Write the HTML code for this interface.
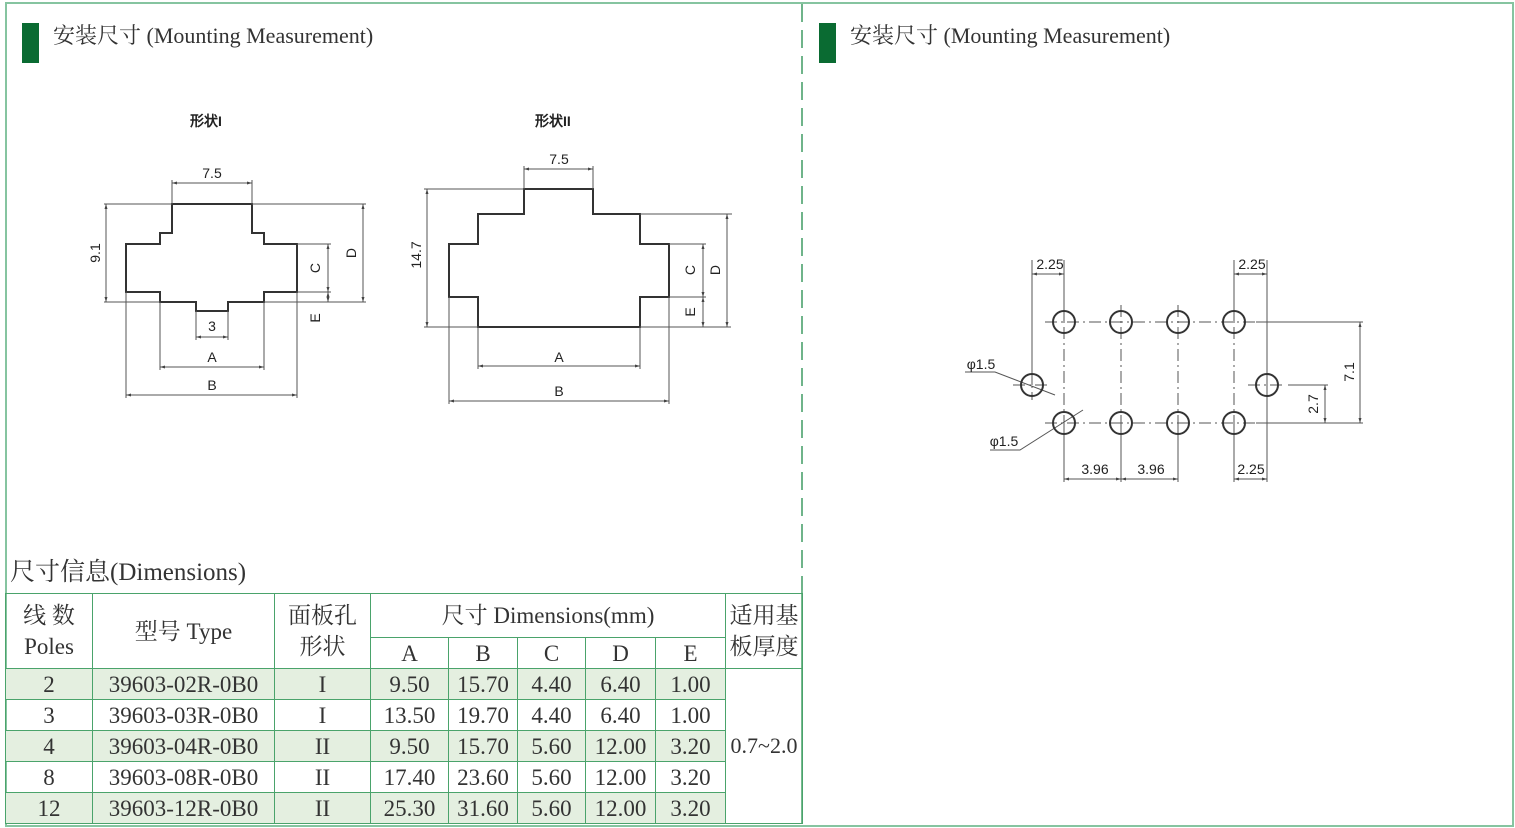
<!DOCTYPE html>
<html><head><meta charset="utf-8"><style>
body{margin:0;width:1515px;height:828px;background:#fff;position:relative;overflow:hidden;font-family:"Liberation Serif","Noto Serif CJK SC",serif;color:#333}
.abs{position:absolute}
.bar{position:absolute;width:17px;height:40px;background:#0a6b32}
.h{position:absolute;font-size:22px;white-space:nowrap;color:#333}
table{position:absolute;left:5px;top:593px;border-collapse:collapse;table-layout:fixed}
td{border:1.5px solid #4aa36b;text-align:center;font-size:23px;padding:0;line-height:1;white-space:nowrap;color:#333}
tr.s td.g{background:#e4efe0}
svg text{font-family:"Liberation Sans",sans-serif;fill:#222}
</style></head><body>
<div class="abs" style="left:5px;top:2px;width:1505px;height:821px;border:2px solid #86c4a0"></div>
<div class="bar" style="left:22px;top:23px"></div>
<div class="bar" style="left:819px;top:23px"></div>
<div class="h" style="left:53px;top:19px">安装尺寸 (Mounting Measurement)</div>
<div class="h" style="left:850px;top:19px">安装尺寸 (Mounting Measurement)</div>
<div class="h" style="left:10px;top:552px;font-size:25px">尺寸信息(Dimensions)</div>
<svg class="abs" style="left:0;top:0" width="1515" height="828">
<defs><marker id="a" viewBox="0 0 10 10" refX="10" refY="5" markerWidth="7" markerHeight="5" orient="auto-start-reverse"><path d="M0,2L10,5L0,8z" fill="#444"/></marker></defs>
<line x1="802" y1="4" x2="802" y2="590" stroke="#6fb48a" stroke-width="2" stroke-dasharray="18,8"/>
<line x1="802" y1="590" x2="802" y2="824" stroke="#4aa36b" stroke-width="1.5"/>
<g font-size="14" font-weight="bold"><text x="190" y="126" font-family="Noto Sans CJK SC">形状I</text><text x="535" y="126" font-family="Noto Sans CJK SC">形状II</text></g>
<g fill="none" stroke="#333" stroke-width="2">
<polygon points="172,204 252,204 252,233 264,233 264,244 297,244 297,292 264,292 264,302 228,302 228,311 196,311 196,302 160,302 160,292 126,292 126,244 160,244 160,233 172,233"/>
<polygon points="524,189 593,189 593,214 640,214 640,244 669,244 669,297 640,297 640,327 478,327 478,297 449,297 449,244 478,244 478,214 524,214"/>
</g>
<g stroke="#555" stroke-width="1" fill="none">
<path d="M172,204V180M252,204V180M104,204H172M252,204H366M104,302H160M264,302H366M297,244H331M297,292H331M196,311V340M228,311V340M160,302V370M264,302V370M126,292V398M297,292V398"/>
<path d="M524,189V166M593,189V166M424,189H524M424,327H478M640,327H731M640,214H732M669,244H706M669,297H706M478,327V369M640,327V369M449,297V404M669,297V404"/>
<path d="M1032,385V260M1064,322V260M1234,322V260M1267,385V260M1256,322H1363M1256,423H1363M1288,385H1328M1064,423V482M1121,423V482M1178,423V482M1234,423V482M1267,385V482"/>
<path d="M965,372H995L1055,395M990,450H1020L1083,410"/>
</g>
<g stroke="#555" stroke-width="1" fill="none" marker-start="url(#a)" marker-end="url(#a)">
<path d="M172,183H252"/><path d="M106,204V302"/><path d="M363,204V302"/><path d="M328,244V292"/><path d="M328,292V302"/><path d="M196,337H228"/><path d="M160,367H264"/><path d="M126,395H297"/>
<path d="M524,169H593"/><path d="M427,189V327"/><path d="M727,214V327"/><path d="M703,244V297"/><path d="M703,297V327"/><path d="M478,366H640"/><path d="M449,401H669"/>
<path d="M1032,274H1064"/><path d="M1234,274H1267"/><path d="M1360,322V423"/><path d="M1325,385V423"/><path d="M1064,479H1121"/><path d="M1121,479H1178"/><path d="M1234,479H1267"/>
</g>
<g stroke="#555" stroke-width="1" stroke-dasharray="12,4,2,4" fill="none">
<path d="M1045,322H1255M1045,423H1255M1064,305V440M1121,305V440M1178,305V440M1234,305V440M1013,385H1050M1248,385H1285M1032,370V400M1267,370V400"/>
</g>
<g fill="none" stroke="#333" stroke-width="2">
<circle cx="1064" cy="322" r="11"/><circle cx="1121" cy="322" r="11"/><circle cx="1178" cy="322" r="11"/><circle cx="1234" cy="322" r="11"/>
<circle cx="1064" cy="423" r="11"/><circle cx="1121" cy="423" r="11"/><circle cx="1178" cy="423" r="11"/><circle cx="1234" cy="423" r="11"/>
<circle cx="1032" cy="385" r="11"/><circle cx="1267" cy="385" r="11"/>
</g>
<g font-size="14" text-anchor="middle">
<text x="212" y="178">7.5</text><text x="212" y="331">3</text><text x="212" y="362">A</text><text x="212" y="390">B</text>
<text x="100" y="253" transform="rotate(-90 100 253)">9.1</text>
<text x="320" y="268" transform="rotate(-90 320 268)">C</text>
<text x="356" y="253" transform="rotate(-90 356 253)">D</text>
<text x="320" y="318" transform="rotate(-90 320 318)">E</text>
<text x="559" y="164">7.5</text><text x="559" y="362">A</text><text x="559" y="396">B</text>
<text x="421" y="255" transform="rotate(-90 421 255)">14.7</text>
<text x="695" y="270" transform="rotate(-90 695 270)">C</text>
<text x="720" y="270" transform="rotate(-90 720 270)">D</text>
<text x="695" y="312" transform="rotate(-90 695 312)">E</text>
<text x="1050" y="269">2.25</text><text x="1252" y="269">2.25</text>
<text x="1095" y="474">3.96</text><text x="1151" y="474">3.96</text><text x="1251" y="474">2.25</text>
<text x="1354" y="372" transform="rotate(-90 1354 372)">7.1</text>
<text x="1318" y="404" transform="rotate(-90 1318 404)">2.7</text>
<text x="981" y="369">φ1.5</text><text x="1004" y="446">φ1.5</text>
</g>
</svg>
<table>
<colgroup><col style="width:87px"><col style="width:182px"><col style="width:96px"><col style="width:78px"><col style="width:69px"><col style="width:68px"><col style="width:70px"><col style="width:70px"><col style="width:77px"></colgroup>
<tr style="height:44px"><td rowspan="2" style="line-height:1.35">线 数<br>Poles</td><td rowspan="2">型号 Type</td><td rowspan="2" style="line-height:1.35">面板孔<br>形状</td><td colspan="5">尺寸 Dimensions(mm)</td><td rowspan="2" style="line-height:1.35">适用基<br>板厚度</td></tr>
<tr style="height:31px"><td>A</td><td>B</td><td>C</td><td>D</td><td>E</td></tr>
<tr class="s" style="height:31px"><td class="g">2</td><td class="g">39603-02R-0B0</td><td class="g">I</td><td class="g">9.50</td><td class="g">15.70</td><td class="g">4.40</td><td class="g">6.40</td><td class="g">1.00</td><td rowspan="5" style="font-size:22px">0.7~2.0</td></tr>
<tr style="height:31px"><td>3</td><td>39603-03R-0B0</td><td>I</td><td>13.50</td><td>19.70</td><td>4.40</td><td>6.40</td><td>1.00</td></tr>
<tr class="s" style="height:31px"><td class="g">4</td><td class="g">39603-04R-0B0</td><td class="g">II</td><td class="g">9.50</td><td class="g">15.70</td><td class="g">5.60</td><td class="g">12.00</td><td class="g">3.20</td></tr>
<tr style="height:31px"><td>8</td><td>39603-08R-0B0</td><td>II</td><td>17.40</td><td>23.60</td><td>5.60</td><td>12.00</td><td>3.20</td></tr>
<tr class="s" style="height:31px"><td class="g">12</td><td class="g">39603-12R-0B0</td><td class="g">II</td><td class="g">25.30</td><td class="g">31.60</td><td class="g">5.60</td><td class="g">12.00</td><td class="g">3.20</td></tr>
</table>
</body></html>
